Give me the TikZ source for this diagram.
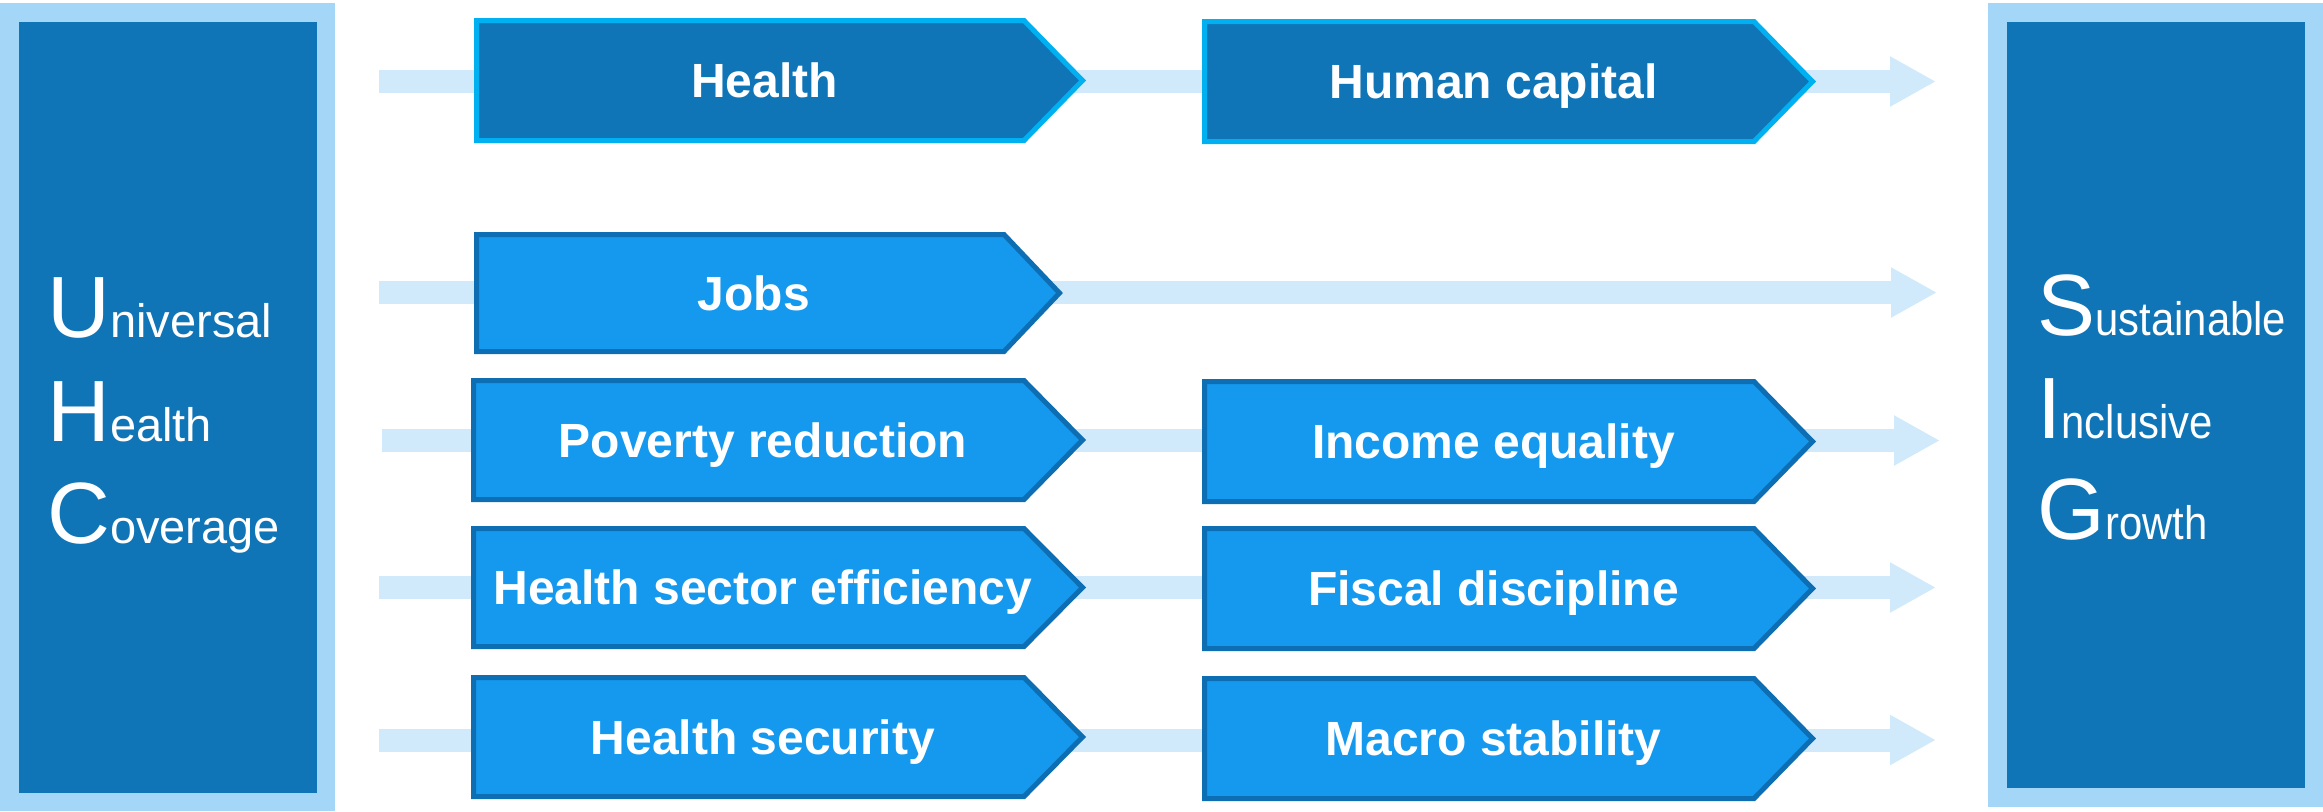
\documentclass[tikz,border=0pt]{standalone}
\usepackage{graphicx}
\usepackage{fontspec}
\setmainfont{Liberation Sans}
\usetikzlibrary{arrows.meta}
\definecolor{darkfill}{HTML}{0F75B7}
\definecolor{lightframe}{HTML}{A3D6F7}
\definecolor{bandcol}{HTML}{D1EAFB}
\definecolor{boxfill}{HTML}{1599EE}
\definecolor{boxedge}{HTML}{0E6EB4}
\definecolor{cyanedge}{HTML}{00B0F0}
\newcommand\capfont{\fontsize{43.5}{50}\selectfont}
\newcommand\lowfont{\fontsize{23.5}{28}\selectfont}
\newcommand\narrowlow[1]{\scalebox{0.89}[1]{\lowfont #1}}
\newcommand\chevbox[8]{%
  \pgfmathsetmacro\cl{#3+2.5}\pgfmathsetmacro\ct{#4+2.5}\pgfmathsetmacro\cb{#5-2.5}%
  \pgfmathsetmacro\cm{(#4+#5)/2}\pgfmathsetmacro\ctip{#7-3.5}%
  \pgfmathsetmacro\tx{(#3+#6)/2+(#7-#6)/4}\pgfmathsetmacro\ty{\cm+17}%
  \draw[#2] (\cl,\ct) -- (#6,\ct) -- (\ctip,\cm) -- (#6,\cb) -- (\cl,\cb) -- cycle;
  \node[boxlabel] (#1) at (\tx,\ty) {#8};
}
\begin{document}
\begin{tikzpicture}[x=0.5pt,y=-0.5pt,
  band/.style={draw=bandcol,line width=11.5pt,-{Triangle[length=23pt,width=23.5pt]}},
  darkchev/.style={fill=darkfill,draw=cyanedge,line width=2.5pt,line join=miter},
  lightchev/.style={fill=boxfill,draw=boxedge,line width=2.5pt,line join=miter},
  boxlabel/.style={anchor=base,inner sep=0pt,text=white,font=\bfseries\fontsize{24}{28}\selectfont},
  bigtext/.style={anchor=base west,inner sep=0pt,text=white}]
\useasboundingbox (0,0) rectangle (2323,811);
% side panels
\fill[lightframe] (0,3) rectangle (335,811);
\fill[darkfill] (19,22) rectangle (317,793);
\fill[lightframe] (1988,3) rectangle (2323,807);
\fill[darkfill] (2007,22) rectangle (2305,788);
\node[bigtext] (uhc1) at (47,337) {\capfont U\lowfont niversal};
\node[bigtext] (uhc2) at (47,441) {\capfont H\lowfont ealth};
\node[bigtext] (uhc3) at (47,543) {\capfont C\lowfont overage};
\node[bigtext] (sig1) at (2037,335) {\capfont S\narrowlow{ustainable}};
\node[bigtext] (sig2) at (2037,438) {\capfont I\narrowlow{nclusive}};
\node[bigtext] (sig3) at (2037,539) {\capfont G\narrowlow{rowth}};
% bands
\coordinate (s1) at (379,81.5);  \coordinate (e1) at (1936,81.5);
\coordinate (s2) at (379,292.5); \coordinate (e2) at (1937,292.5);
\coordinate (s3) at (382,440.5); \coordinate (e3) at (1940,440.5);
\coordinate (s4) at (379,587.5); \coordinate (e4) at (1936,587.5);
\coordinate (s5) at (379,740);   \coordinate (e5) at (1936,740);
\foreach \i in {1,...,5}{\draw[band] (s\i) -- (e\i);}
% boxes
\chevbox{health}{darkchev}{474}{18}{143}{1024}{1086}{Health}
\chevbox{humcap}{darkchev}{1202}{19}{144}{1754}{1816}{Human capital}
\chevbox{jobs}{lightchev}{474}{232}{354}{1004}{1063}{Jobs}
\chevbox{poverty}{lightchev}{471}{378}{502}{1024}{1086}{Poverty reduction}
\chevbox{income}{lightchev}{1202}{379}{504}{1754}{1816}{Income equality}
\chevbox{effic}{lightchev}{471}{526}{649}{1024}{1086}{Health sector efficiency}
\chevbox{fiscal}{lightchev}{1202}{526}{651}{1754}{1816}{Fiscal discipline}
\chevbox{hsec}{lightchev}{471}{675}{799}{1024}{1086}{Health security}
\chevbox{macro}{lightchev}{1202}{676}{801}{1754}{1816}{Macro stability}
\end{tikzpicture}
\end{document}
